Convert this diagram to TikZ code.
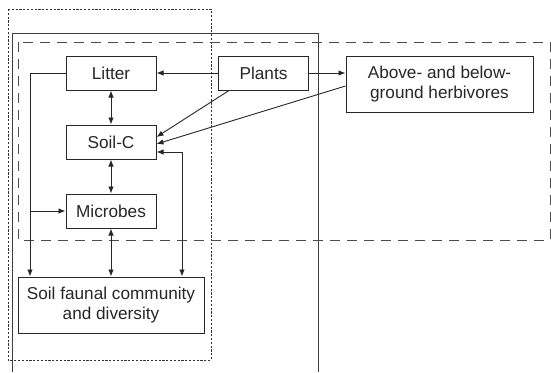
\documentclass[tikz,border=0pt]{standalone}
\usepackage{fontspec}
\setmainfont{Liberation Sans}
\usetikzlibrary{positioning,arrows.meta}
\tikzset{
  flowarrow/.style={-{Latex[length=7pt,width=5.5pt]}, line width=0.9pt, draw=black!85},
  bothway/.style={{Latex[length=7pt,width=5.5pt]}-{Latex[length=7pt,width=5.5pt]}, line width=0.9pt, draw=black!85},
  pool/.style={draw=black!85, line width=1pt, minimum width=90pt, minimum height=34pt, align=center, inner sep=2pt},
  widepool/.style={pool, minimum width=187pt, minimum height=56pt},
  scalebox/.style={draw=black!70, line width=1pt, dash pattern=on 10pt off 7pt},
  soilbox/.style={draw=black!80, line width=0.8pt, dash pattern=on 2.2pt off 1.6pt}
}

\begin{document}
\begin{tikzpicture}[x=1pt, y=-1pt, every node/.style={font=\fontsize{17.2}{20.5}\selectfont, text=black!85}]
  \useasboundingbox (0,0) rectangle (551,372);
  % frames
  \draw[soilbox] (8,9) rectangle (211,360);
  \draw[draw=black!75, line width=1pt] (12,372) -- (12,33) -- (318,33) -- (318,372);
  \draw[scalebox] (18,42) rectangle (550,240);
  % pools
  \node[pool] (litter) at (111,73) {Litter};
  \node[pool] (plants) at (263.5,73) {Plants};
  \node[widepool] (herb) at (439.5,84) {Above- and below-\\ground herbivores};
  \node[pool] (soilc) at (111,142) {Soil-C};
  \node[pool] (microbes) at (111,211) {Microbes};
  \node[widepool, minimum width=186pt] (fauna) at (111,305) {Soil faunal community\\and diversity};
  % fluxes
  \draw[flowarrow] (plants) -- (litter);
  \draw[flowarrow] (plants) -- (herb.west |- plants);
  \draw[flowarrow] ([xshift=11pt]plants.south west) -- ([yshift=5pt]soilc.east);
  \draw[flowarrow] ([yshift=-2pt]herb.west) -- ([yshift=-2pt]soilc.east);
  \draw[bothway] (litter) -- (soilc);
  \draw[bothway] (soilc) -- (microbes);
  \draw[bothway] (microbes) -- (fauna);
  \coordinate (lbend) at (30,73);
  \draw[flowarrow] (litter.west) -- (lbend) -- (lbend |- fauna.north);
  \draw[flowarrow] (lbend |- microbes.west) -- (microbes.west);
  \coordinate (cret) at (182,152);
  \draw[bothway] (cret |- fauna.north) -- (cret) -- (cret -| soilc.east);
\end{tikzpicture}
\end{document}
